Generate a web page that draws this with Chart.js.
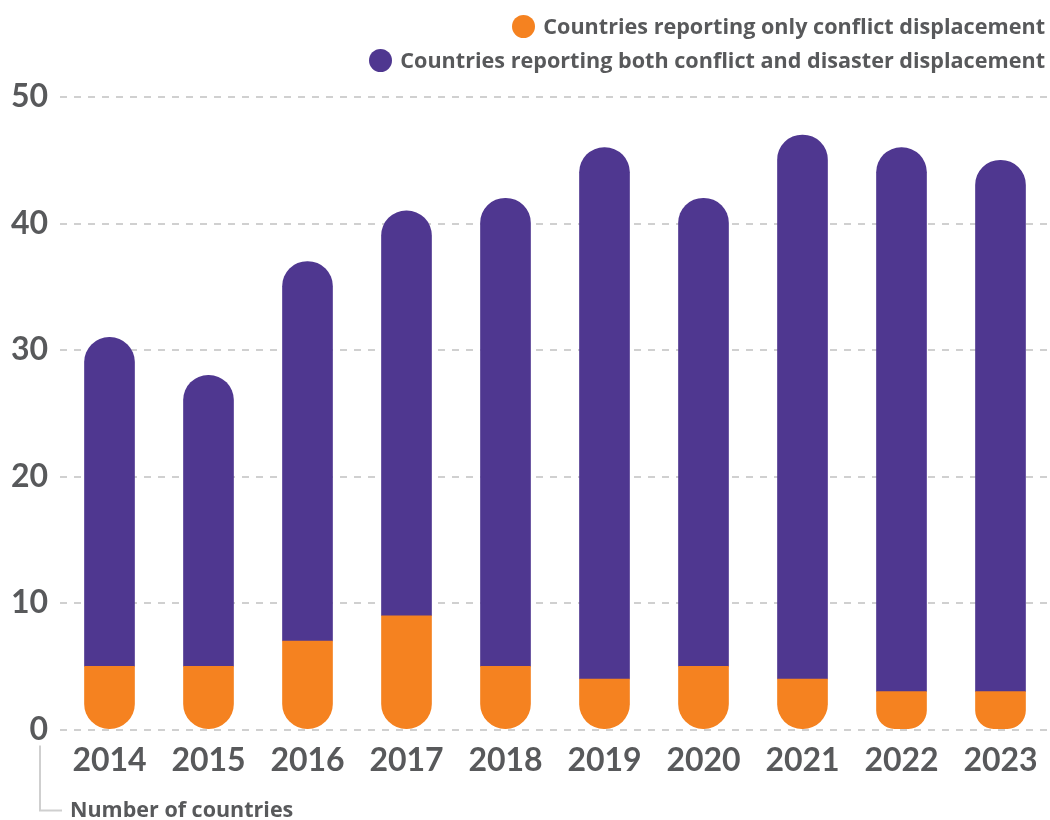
<!DOCTYPE html>
<html lang="en">
<head>
    <meta charset="UTF-8">
    <title>Countries reporting displacement</title>
    <script src="https://cdn.jsdelivr.net/npm/chart.js"></script>
    <style>
        html, body { margin: 0; padding: 0; background: #fff; }
        #wrap { position: relative; width: 1050px; height: 820px; }
        #legend {
            position: absolute; top: 9px; right: 5px;
            list-style: none; margin: 0; padding: 0;
            font: bold 21.6px "Open Sans", sans-serif; color: #58595b;
        }
        #legend li {
            display: flex; justify-content: flex-end; align-items: center;
            height: 34px; line-height: 34px; white-space: nowrap;
        }
        #legend .dot {
            display: inline-block; width: 23px; height: 23px;
            border-radius: 50%; margin-right: 8px;
        }
    </style>
</head>
<body>
<div id="wrap">
    <canvas id="countriesChart" width="1050" height="820"></canvas>
    <ul id="legend"></ul>
</div>

<script>
    const years = ["2014", "2015", "2016", "2017", "2018", "2019", "2020", "2021", "2022", "2023"];
    const conflictOnly = [5, 5, 7, 9, 5, 4, 5, 4, 3, 3];
    const conflictAndDisaster = [26, 23, 30, 32, 37, 42, 37, 43, 43, 42];
    const yTicks = [0, 10, 20, 30, 40, 50];

    const ORANGE = '#f58220';
    const PURPLE = '#4f3790';
    const TEXT = '#58595b';
    const FONT = 'Lato, "Open Sans", sans-serif';

    // "Number of countries" note with its little bracket under the axis
    const axisNote = {
        id: 'axisNote',
        afterDraw(chart) {
            const ctx = chart.ctx;
            const y0 = chart.scales.y.getPixelForValue(0);
            ctx.save();
            ctx.strokeStyle = '#cfcfcf';
            ctx.lineWidth = 2;
            ctx.beginPath();
            ctx.moveTo(40, y0 + 16);
            ctx.lineTo(40, y0 + 81);
            ctx.lineTo(62, y0 + 81);
            ctx.stroke();
            ctx.fillStyle = TEXT;
            ctx.font = 'bold 21.5px "Open Sans", sans-serif';
            ctx.textBaseline = 'middle';
            ctx.fillText('Number of countries', 70, y0 + 81);
            ctx.restore();
        }
    };

    const ctx = document.getElementById('countriesChart').getContext('2d');
    const chart = new Chart(ctx, {
        type: 'bar',
        data: {
            labels: years,
            datasets: [{
                label: 'Countries reporting only conflict displacement',
                data: conflictOnly,
                backgroundColor: ORANGE,
                borderWidth: 0,
                borderSkipped: false,
                borderRadius: { topLeft: 0, topRight: 0, bottomLeft: 25, bottomRight: 25 }
            }, {
                label: 'Countries reporting both conflict and disaster displacement',
                data: conflictAndDisaster,
                backgroundColor: PURPLE,
                borderWidth: 0,
                borderSkipped: false,
                borderRadius: { topLeft: 25, topRight: 25, bottomLeft: 0, bottomRight: 0 }
            }]
        },
        options: {
            responsive: false,
            animation: false,
            layout: { padding: { left: 0, right: 0, top: 97, bottom: 28 } },
            datasets: {
                bar: { barThickness: 50 }
            },
            scales: {
                x: {
                    stacked: true,
                    grid: { display: false, drawTicks: false },
                    border: { display: false },
                    ticks: {
                        color: TEXT,
                        padding: 12,
                        font: { family: FONT, size: 32, weight: 'bold' }
                    }
                },
                y: {
                    stacked: true,
                    min: 0,
                    max: 50,
                    afterFit(scale) { scale.width = 60; },
                    afterBuildTicks(scale) {
                        scale.ticks = yTicks.map(v => ({ value: v }));
                    },
                    grid: {
                        color: '#d0d0d0',
                        lineWidth: 2,
                        drawTicks: false
                    },
                    border: { display: false, dash: [7, 7] },
                    ticks: {
                        color: TEXT,
                        padding: 12,
                        font: { family: FONT, size: 32, weight: 'bold' }
                    }
                }
            },
            plugins: {
                tooltip: { enabled: false },
                legend: { display: false }
            }
        },
        plugins: [axisNote]
    });

    // legend built from the datasets
    const legend = document.getElementById('legend');
    chart.data.datasets.forEach(ds => {
        legend.innerHTML += `<li><span class="dot" style="background:${ds.backgroundColor}"></span>${ds.label}</li>`;
    });
</script>
</body>
</html>
